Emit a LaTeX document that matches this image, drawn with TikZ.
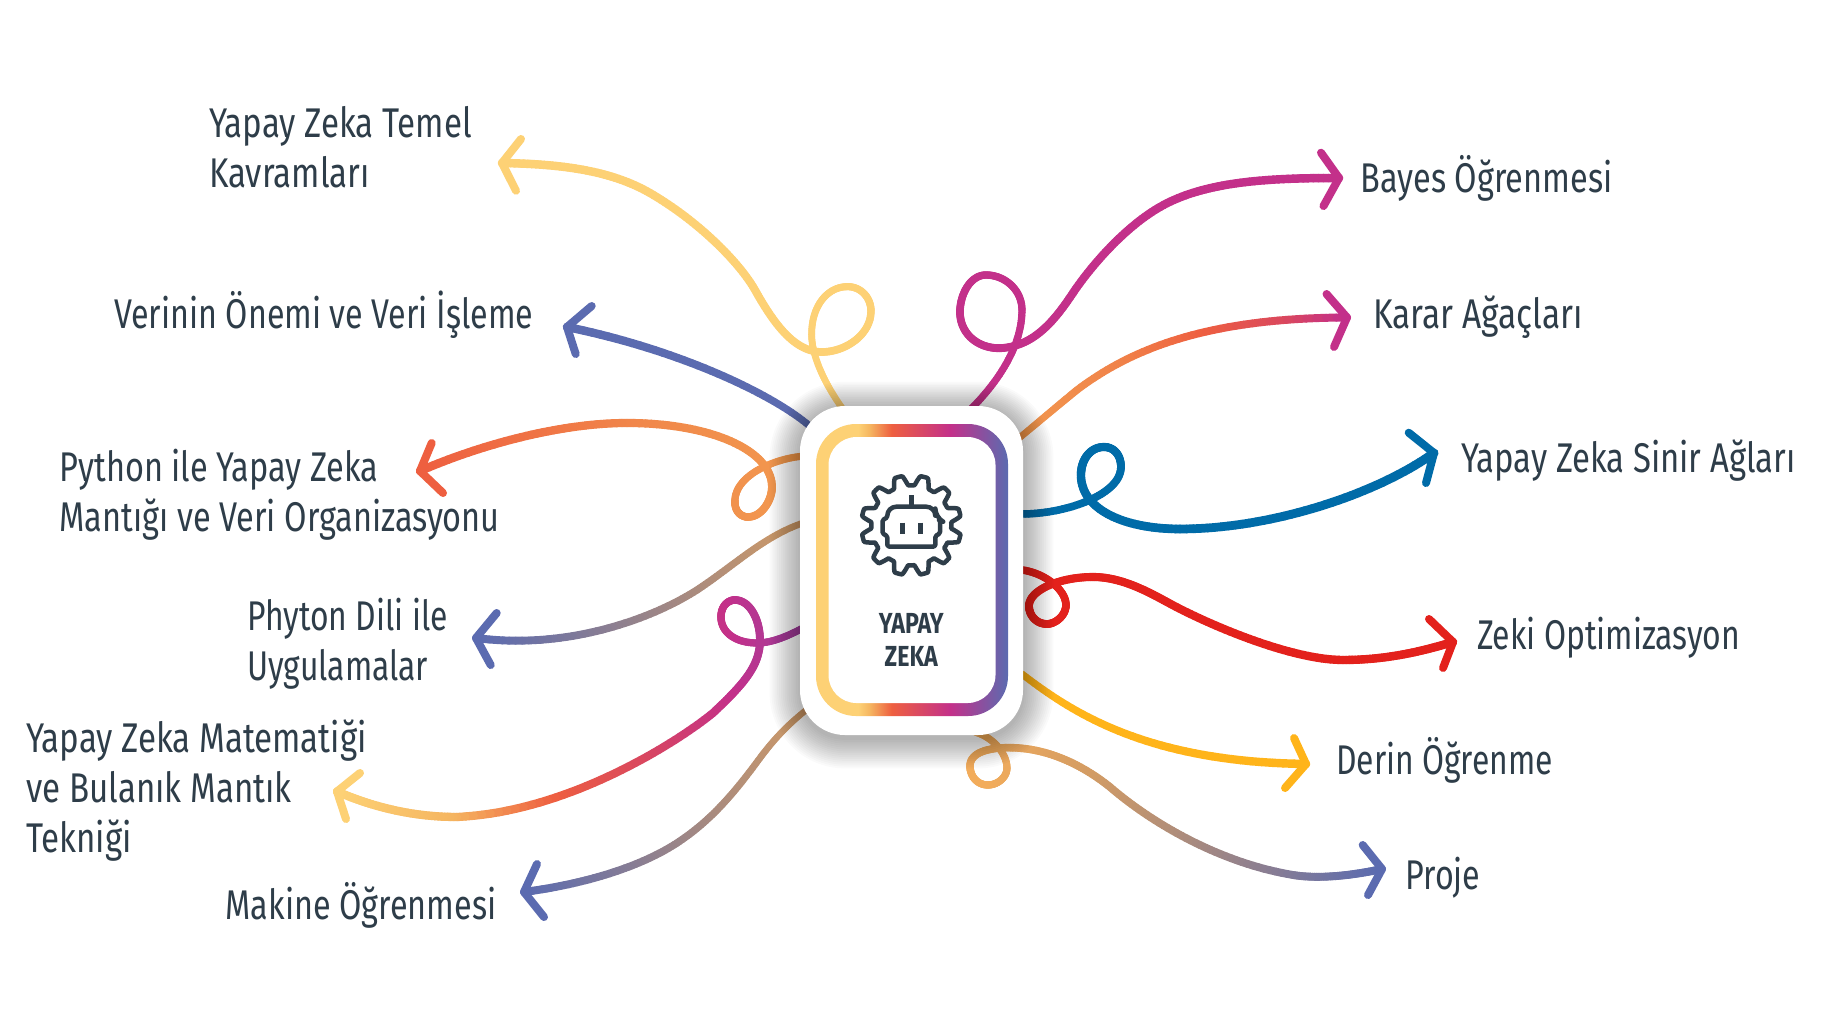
\documentclass[tikz,border=0pt]{standalone}
\usepackage{fontspec}
\newfontfamily\cardfont[FakeStretch=0.8,BoldFont={Fira Sans Bold}]{Fira Sans}
\newfontfamily\lfA[FakeStretch=0.797]{Fira Sans}
\newfontfamily\lfB[FakeStretch=0.777]{Fira Sans}
\newfontfamily\lfC[FakeStretch=0.783]{Fira Sans}
\newfontfamily\lfD[FakeStretch=0.767]{Fira Sans}
\newfontfamily\lfF[FakeStretch=0.78]{Fira Sans}
\newfontfamily\lfG[FakeStretch=0.807]{Fira Sans}
\newfontfamily\lfH[FakeStretch=0.792]{Fira Sans}
\newfontfamily\lfI[FakeStretch=0.77]{Fira Sans}
\newcommand{\lsize}{\fontsize{41.5}{50}\selectfont}
\definecolor{ink}{HTML}{2E3D49}
\definecolor{gy}{HTML}{FDD175}
\definecolor{go}{HTML}{F5B560}
\definecolor{gr}{HTML}{EE5F40}
\definecolor{gp}{HTML}{D9475F}
\definecolor{gm}{HTML}{C3308A}
\definecolor{gv}{HTML}{9E419E}
\definecolor{gb}{HTML}{5B6BB0}
\definecolor{gt}{HTML}{D49C63}
\definecolor{gor}{HTML}{F2994F}
\definecolor{gs}{HTML}{F2AC5B}
\definecolor{gc}{HTML}{006BA8}
\definecolor{gz}{HTML}{E3211C}
\definecolor{gd}{HTML}{FFB41A}
\colorlet{goa}{gor!70!gr}
\colorlet{gob}{gor!60!gr}
\pgfdeclarehorizontalshading{ringgrad}{100bp}{
  color(0bp)=(gy); color(25bp)=(gy); color(36bp)=(gy); color(39bp)=(go);
  color(44.7bp)=(gr); color(60bp)=(gm); color(75bp)=(gb); color(100bp)=(gb)}
\def\gradpick#1:#2;#3:#4;#5\relax{%
  \ifdim\mx pt<#3pt
    \pgfmathsetmacro\mixp{100*max(0,min(1,(#3-\mx)/(#3-#1)))}%
    \colorlet{cur}{#2!\mixp!#4}%
  \else
    \if\relax\detokenize{#5}\relax
      \colorlet{cur}{#4}%
    \else
      \gradpick#3:#4;#5\relax
    \fi
  \fi}
\newcount\segcnt
% stops, start width, end width, start point, bezier pieces {(c1)/(c2)/(end)}
\newcommand{\gcurve}[5]{%
  \def\curstops{#1}%
  \global\segcnt=0
  \foreach \qitem in {#5}{\global\advance\segcnt by 1}%
  \path #4; \pgfgetlastxy{\px}{\py}%
  \pgfmathsetmacro\tmpa{\px}\global\let\qx\tmpa
  \pgfmathsetmacro\tmpb{\py}\global\let\qy\tmpb
  \foreach \ca/\cb/\ce [count=\kk from 0] in {#5}{%
    \path \ca; \pgfgetlastxy{\ax}{\ay}%
    \path \cb; \pgfgetlastxy{\bx}{\by}%
    \path \ce; \pgfgetlastxy{\ex}{\ey}%
    \let\ox\qx \let\oy\qy
    \foreach \jj in {1,...,40}{%
      \pgfmathsetmacro\tv{\jj/40}%
      \pgfmathsetmacro\uv{1-\tv}%
      \pgfmathsetmacro\nx{\uv*\uv*\uv*\ox+3*\uv*\uv*\tv*\ax+3*\uv*\tv*\tv*\bx+\tv*\tv*\tv*\ex}%
      \pgfmathsetmacro\ny{\uv*\uv*\uv*\oy+3*\uv*\uv*\tv*\ay+3*\uv*\tv*\tv*\by+\tv*\tv*\tv*\ey}%
      \pgfmathsetmacro\mx{(\nx+\qx)/2}%
      \expandafter\gradpick\curstops\relax
      \pgfmathsetmacro\ww{#2+(#3-#2)*(\kk+\tv)/\the\segcnt}%
      \draw[cur,line width=\ww pt,line cap=round] (\qx pt,\qy pt) -- (\nx pt,\ny pt);
      \global\let\qx\nx \global\let\qy\ny
    }%
  }}
\tikzset{
  lbl/.style={anchor=base west,inner sep=0pt,align=left,text=ink},
  headln/.style={line width=8pt,line cap=round,line join=round},
  iconln/.style={draw=ink,line width=4.5pt,line join=round},
  cardbox/.style={rectangle,rounded corners=45pt,fill=white,minimum width=223pt,minimum height=329pt,inner sep=0pt},
}
\begin{document}
\begin{tikzpicture}[x=1pt,y=-1pt]
\useasboundingbox (0,0) rectangle (1841,1029);
\fill[white] (0,0) rectangle (1841,1029);
% labels
\node[lbl,font=\lfA\lsize] (n1) at (209,187.7) {Yapay Zeka Temel\\Kavramları};
\node[lbl,font=\lfB\lsize] (n2) at (114,328.7) {Verinin Önemi ve Veri İşleme};
\node[lbl,font=\lfC\lsize] (n3) at (59.4,531.7) {Python ile Yapay Zeka\\Mantığı ve Veri Organizasyonu};
\node[lbl,font=\lfD\lsize] (n4) at (247,680.3) {Phyton Dili ile\\Uygulamalar};
\node[lbl,font=\lfA\lsize] (n5) at (26,852.7) {Yapay Zeka Matematiği\\ve Bulanık Mantık\\Tekniği};
\node[lbl,font=\lfF\lsize] (n6) at (225.5,919.3) {Makine Öğrenmesi};
\node[lbl,font=\lfC\lsize] (n7) at (1360.5,192) {Bayes Öğrenmesi};
\node[lbl,font=\lfG\lsize] (n8) at (1373,328.3) {Karar Ağaçları};
\node[lbl,font=\lfH\lsize] (n9) at (1461,472.7) {Yapay Zeka Sinir Ağları};
\node[lbl,font=\lfI\lsize] (n10) at (1476.8,649.3) {Zeki Optimizasyon};
\node[lbl,font=\lfD\lsize] (n11) at (1336,774.3) {Derin Öğrenme};
\node[lbl,font=\lfB\lsize] (n12) at (1405.3,889.3) {Proje};
% end points
\coordinate (s1) at (845,412); \coordinate (t1) at (502,163);
\coordinate (s2) at (812,428); \coordinate (t2) at (567,327);
\coordinate (s3) at (805,456); \coordinate (t3) at (420,471);
\coordinate (s4) at (806,522); \coordinate (t4) at (476,638);
\coordinate (s5) at (803,628); \coordinate (t5) at (337,791.5);
\coordinate (s6) at (814,704); \coordinate (t6) at (524,892);
\coordinate (s7) at (970,410); \coordinate (t7) at (1339,178);
\coordinate (s8) at (1012,444); \coordinate (t8) at (1347,317.5);
\coordinate (s9) at (1022,514); \coordinate (t9) at (1434,453);
\coordinate (s10) at (1022,570); \coordinate (t10) at (1453,642);
\coordinate (s11) at (1022,674); \coordinate (t11) at (1306,764);
\coordinate (s12) at (975,732); \coordinate (t12) at (1382,869);
% connectors
\gcurve{0:gy;1841:gy;}{6.5}{8.5}{(s1)}{{(825,385)/(811,355)/(811.7,333)},{(812,305)/(828,287)/(846.7,286.7)},{(860,286)/(871,297)/(871,311)},{(871,335)/(845,352)/(822,352)},{(795,352)/(775,325)/(756.7,293)},{(742,265)/(700,222)/(650,193)},{(610,170)/(560,164)/(t1)}}
\draw[gy,headln] (521,139) -- (t1) -- (516,190.7);
\gcurve{0:gb;1841:gb;}{7}{8.5}{(s2)}{{(775,395)/(680,350)/(t2)}}
\draw[gb,headln] (591.7,306) -- (t2) -- (575.7,354);
\gcurve{420:gr;640:goa;800:gor;}{7}{8.5}{(s3)}{{(775,458)/(736,475)/(735,500)},{(734,510)/(740,517)/(748,517)},{(762,517)/(772,500)/(772,487)},{(772,450)/(710,423)/(627,423)},{(560,423)/(480,445)/(t3)}}
\draw[gr,headln] (431.7,443) -- (t3) -- (443,493);
\gcurve{476:gb;806:gt;}{6.5}{8}{(s4)}{{(765,535)/(735,565)/(697,590)},{(650,620)/(565,650)/(t4)}}
\draw[gb,headln] (496.7,613) -- (t4) -- (490.7,665);
\gcurve{337:gy;450:go;550:gr;640:gp;730:gm;803:gv;}{7}{8.5}{(s5)}{{(788,636)/(772,643)/(757,643)},{(735,643)/(721,632)/(721,617)},{(721,606)/(728,600)/(735,600)},{(750,600)/(760,620)/(760,640)},{(760,665)/(745,683)/(713,713)},{(680,740)/(570,812)/(457,817)},{(415,817)/(375,808)/(t5)}}
\draw[gy,headln] (360,773) -- (t5) -- (346,819);
\gcurve{524:gb;814:gt;}{6}{8}{(s6)}{{(790,722)/(775,738)/(760,758)},{(735,792)/(712,820)/(677,843)},{(640,867)/(585,884)/(t6)}}
\draw[gb,headln] (537,864) -- (t6) -- (544,917);
\gcurve{0:gm;1841:gm;}{7}{8.5}{(s7)}{{(1000,380)/(1022,345)/(1022,310)},{(1022,290)/(1005,275)/(986,275)},{(970,275)/(960,295)/(960,312)},{(960,335)/(980,350)/(1003,348)},{(1035,345)/(1055,320)/(1073,293)},{(1091,266)/(1125,227)/(1160,207)},{(1205,181)/(1270,178)/(t7)}}
\draw[gm,headln] (1321,152.7) -- (t7) -- (1323.5,206);
\gcurve{1016:gor;1125:gob;1205:gr;1290:gp;1347:gm;}{6.5}{8}{(s8)}{{(1035,425)/(1055,408)/(1077,390)},{(1130,350)/(1205,318)/(t8)}}
\draw[gm,headln] (1326.5,294) -- (t8) -- (1334,347);
\gcurve{0:gc;1841:gc;}{7.5}{9}{(s9)}{{(1065,514)/(1121,495)/(1121,467)},{(1121,455)/(1114,447)/(1104,447)},{(1090,447)/(1081,460)/(1081,475)},{(1081,510)/(1125,529)/(1180,529)},{(1270,529)/(1375,495)/(t9)}}
\draw[gc,headln] (1408.7,432.7) -- (t9) -- (1426,483);
\gcurve{0:gz;1841:gz;}{7.5}{8.5}{(s10)}{{(1045,573)/(1066,590)/(1066,605)},{(1066,615)/(1056,624)/(1047,624)},{(1036,624)/(1029,615)/(1029,606)},{(1029,590)/(1060,577)/(1093,577)},{(1120,577)/(1145,590)/(1167,602)},{(1205,623)/(1290,660)/(1343,660)},{(1385,660)/(1420,652)/(t10)}}
\draw[gz,headln] (1429,619) -- (t10) -- (1443,668);
\gcurve{0:gd;1841:gd;}{7}{8.5}{(s11)}{{(1075,715)/(1150,762)/(t11)}}
\draw[gd,headln] (1294,738) -- (t11) -- (1285,788);
\gcurve{985:gs;1090:gt;1382:gb;}{7}{8}{(s12)}{{(995,738)/(1007,755)/(1007,768)},{(1007,777)/(998,785)/(988,785)},{(977,785)/(970,776)/(970,766)},{(970,752)/(990,747.5)/(1010,747.7)},{(1050,748)/(1085,767)/(1110,787)},{(1147,819)/(1215,862)/(1293,875)},{(1320,879.5)/(1355,875)/(t12)}}
\draw[gb,headln] (1362.7,845) -- (t12) -- (1368,895);
% shadow
\foreach \e in {1,...,16}{
  \fill[black,opacity=.02,rounded corners={45pt+\e*1.9pt}]
    ({800-\e*1.9},{406-\e*1.7+3}) rectangle ({1023+\e*1.9},{735+\e*1.9+3});
}
% card
\node[cardbox] (card) at (911.5,570.5) {};
\shade[shading=ringgrad,rounded corners=40pt] (816,424) rectangle (1008,716);
\fill[white,rounded corners=28pt] (828.5,437) rectangle (995.5,703);
% icon
\draw[iconln] plot[domain=0:359,samples=240,variable=\t]
  ({911.3+(45+5*max(-1,min(1,1.7*cos(12*(\t-15)))))*cos(\t)},
   {525.3+(45+5*max(-1,min(1,1.7*cos(12*(\t-15)))))*sin(\t)}) -- cycle;
\draw[iconln,rounded corners=1.5pt] (887.3,546.5) -- (887.3,536) -- (882.5,533.5) -- (882.5,520) -- (887.3,517.5)
  [rounded corners=9pt] -- (887.3,506.7) -- (935.3,506.7) -- (935.3,517.5)
  [rounded corners=1.5pt] -- (940,520) -- (940,533.5) -- (935.3,536) -- (935.3,546.5) -- cycle;
\draw[iconln] (911.3,495) -- (911.3,506.7);
\draw[iconln] (902.3,522.7) -- (902.3,534);
\draw[iconln] (920.3,522.7) -- (920.3,534);
\node[anchor=base,inner sep=0pt,align=center,text=ink,font=\cardfont\bfseries\fontsize{29}{32.7}\selectfont] (cardtext) at (911.3,666) {YAPAY\\ZEKA};
\end{tikzpicture}
\end{document}
